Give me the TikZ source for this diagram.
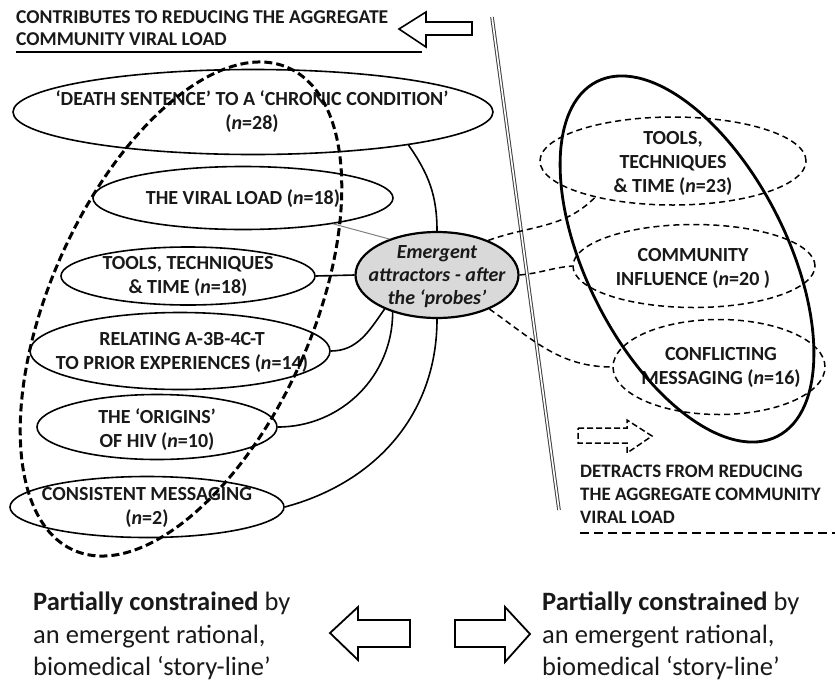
\documentclass[tikz,border=0pt]{standalone}
\usepackage{fontspec}
\setmainfont{Carlito}
\usetikzlibrary{shapes.geometric}
\begin{document}
\begin{tikzpicture}[x=1pt,y=-1pt,
  ell/.style={draw=black, line width=1.6pt, ellipse, inner sep=0pt},
  dell/.style={ell, line width=1.5pt, dash pattern=on 6pt off 4pt},
  lab/.style={font=\fontsize{20}{24}\selectfont\bfseries, align=center, text=black!90, inner sep=0pt},
  labl/.style={font=\fontsize{19.6}{24}\selectfont\bfseries, text=black!90, inner sep=0pt, anchor=base west},
  big/.style={font=\fontsize{26.5}{32}\selectfont, text=black!90, inner sep=0pt, anchor=base west},
  con/.style={line width=1.6pt},
  dcon/.style={line width=1.5pt, dash pattern=on 6pt off 4pt},
  blockarrow/.style={line width=1.8pt, line join=miter},
]
\useasboundingbox (0,0) rectangle (835,683);

% header
\node[labl] (h1) at (16,23) {CONTRIBUTES TO REDUCING THE AGGREGATE};
\node[labl] (h2) at (16,45) {COMMUNITY VIRAL LOAD};
\draw[line width=2.6pt] (16,52) -- (422,52);
\draw[blockarrow, line width=1.6pt] (399,29) -- (426,12) -- (426,22) -- (472,22) -- (472,35) -- (426,35) -- (426,47) -- cycle;

% divider
\draw[draw=gray!50!black, double=white, line width=1pt, double distance=1.6pt] (492,17) -- (559,510);

% left ellipses
\node[ell, minimum width=480pt, minimum height=85pt] (death) at (253,112) {};
\node[lab] (deathT) at (252,112) {‘DEATH SENTENCE’ TO A ‘CHRONIC CONDITION’\\(\textit{n}=28)};
\node[ell, minimum width=300pt, minimum height=63pt] (viral) at (243,198) {};
\node[lab] (viralT) at (243,199) {THE VIRAL LOAD (\textit{n}=18)};
\node[ell, minimum width=254pt, minimum height=58pt] (toolsL) at (188,276) {};
\node[lab] (toolsLT) at (188,276) {TOOLS, TECHNIQUES\\\& TIME (\textit{n}=18)};
\node[ell, minimum width=300pt, minimum height=77pt] (relating) at (180,351) {};
\node[lab] (relatingT) at (182,352) {RELATING A-3B-4C-T\\TO PRIOR EXPERIENCES (\textit{n}=14)};
\node[ell, minimum width=240pt, minimum height=65pt] (origins) at (157,427) {};
\node[lab] (originsT) at (157,430) {THE ‘ORIGINS’\\OF HIV (\textit{n}=10)};
\node[ell, minimum width=274pt, minimum height=61pt] (consistent) at (147,507) {};
\node[lab] (consistentT) at (147,507) {CONSISTENT MESSAGING\\(\textit{n}=2)};

% central
\node[ell, line width=2.2pt, fill=gray!30, minimum width=163pt, minimum height=86pt] (em) at (437,275) {};
\node[lab, font=\fontsize{20}{23}\selectfont\bfseries\itshape] (emT) at (437,277) {Emergent\\attractors - after\\the ‘probes’};

% right ellipses
\node[dell, minimum width=266pt, minimum height=88pt] (toolsR) at (673,161) {};
\node[lab] (toolsRT) at (673,163) {TOOLS,\\TECHNIQUES\\\& TIME (\textit{n}=23)};
\node[dell, minimum width=242pt, minimum height=83pt] (comm) at (694,266) {};
\node[lab] (commT) at (693,268) {COMMUNITY\\INFLUENCE (\textit{n}=20 )};
\node[dell, minimum width=212pt, minimum height=95pt] (confl) at (719,367) {};
\node[lab] (conflT) at (721,367) {CONFLICTING\\MESSAGING (\textit{n}=16)};

% big grouping ellipses
\draw[line width=3pt, dash pattern=on 8pt off 4pt, rotate around={-24:(181,309)}] (181,309) ellipse [x radius=131pt, y radius=264pt];
\draw[line width=2.8pt, rotate around={27:(687,259)}] (687,259) ellipse [x radius=100pt, y radius=199pt];

% solid connectors
\draw[con] (death.-12) to[out=-55, in=90] (em.north);
\draw[gray, line width=1pt] (viral.-16) -- (em.143);
\draw[con] (toolsL.east) -- (em.west);
\draw[con] (relating.east) to[out=0, in=235] (em.213);
\draw[con] (origins.east) to[out=0, in=270] (em.220);
\draw[con] (consistent.east) to[out=15, in=270] (em.south);

% dashed connectors
\draw[dcon] (em.34) to[out=20, in=225] (toolsR.205);
\draw[dcon] (em.east) to[out=5, in=185] (comm.west);
\draw[dcon] (em.-33) to[out=-35, in=180] (confl.west);

% detracts
\draw[line width=1.5pt, dash pattern=on 6pt off 3pt, line join=miter] (578,428) -- (627,428) -- (627,420) -- (652,436) -- (627,453) -- (627,443) -- (578,443) -- cycle;
\node[labl, font=\fontsize{19}{24}\selectfont\bfseries] (d1) at (580,477) {DETRACTS FROM REDUCING};
\node[labl, font=\fontsize{19}{24}\selectfont\bfseries] (d2) at (580,500) {THE AGGREGATE COMMUNITY};
\node[labl, font=\fontsize{19}{24}\selectfont\bfseries] (d3) at (580,523) {VIRAL LOAD};
\draw[line width=2.8pt, dash pattern=on 9pt off 5pt] (580,533) -- (835,533);

% bottom
\node[big] (bl1) at (33,610) {\textbf{Partially constrained} by};
\node[big] (bl2) at (33,643) {an emergent rational,};
\node[big] (bl3) at (33,675) {biomedical ‘story-line’};
\node[big] (br1) at (542,610) {\textbf{Partially constrained} by};
\node[big] (br2) at (542,643) {an emergent rational,};
\node[big] (br3) at (542,675) {biomedical ‘story-line’};
\draw[blockarrow] (330,633) -- (358,607) -- (358,620) -- (410,620) -- (410,647) -- (358,647) -- (358,660) -- cycle;
\draw[blockarrow] (530,634) -- (505,607) -- (505,620) -- (455,620) -- (455,647) -- (505,647) -- (505,662) -- cycle;
\end{tikzpicture}
\end{document}
